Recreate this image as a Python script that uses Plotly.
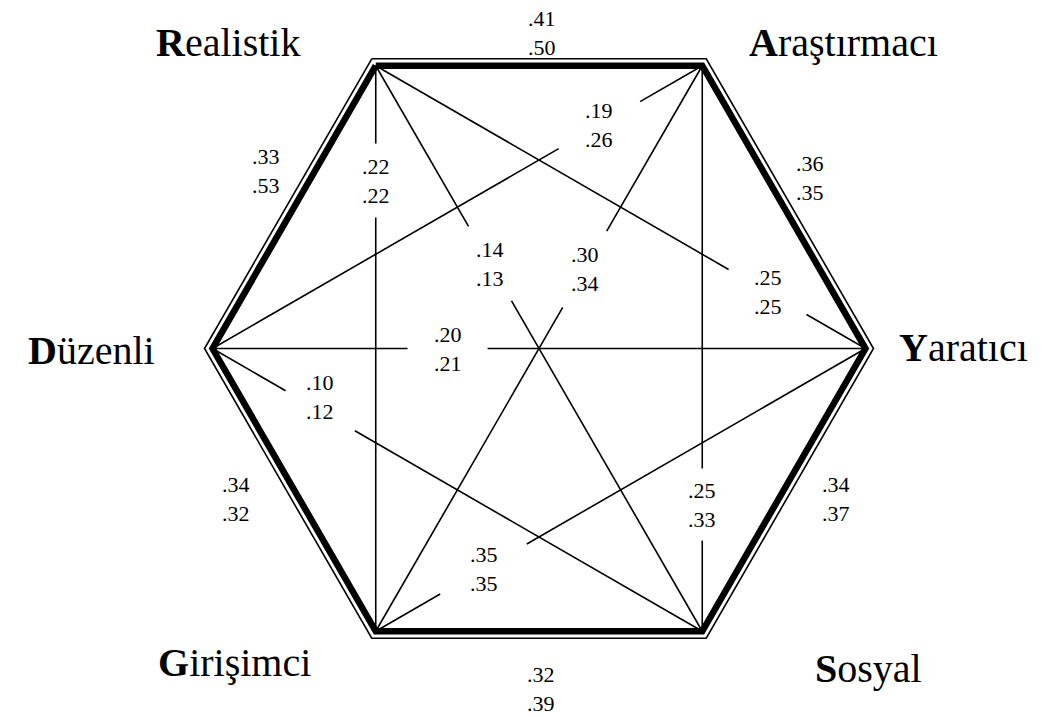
import math
import plotly.graph_objects as go

# ---- data ----
types = ["Realistik", "Araştırmacı", "Yaratıcı", "Sosyal", "Girişimci", "Düzenli"]

edge_pairs = [("Realistik", "Araştırmacı"), ("Araştırmacı", "Yaratıcı"), ("Yaratıcı", "Sosyal"),
              ("Sosyal", "Girişimci"), ("Girişimci", "Düzenli"), ("Düzenli", "Realistik")]
edge_r1 = [.41, .36, .34, .32, .34, .33]
edge_r2 = [.50, .35, .37, .39, .32, .53]

diag_pairs = [("Realistik", "Girişimci"), ("Realistik", "Yaratıcı"), ("Realistik", "Sosyal"),
              ("Araştırmacı", "Düzenli"), ("Araştırmacı", "Girişimci"), ("Araştırmacı", "Sosyal"),
              ("Düzenli", "Yaratıcı"), ("Düzenli", "Sosyal"), ("Yaratıcı", "Girişimci")]
diag_r1 = [.22, .25, .14, .19, .30, .25, .20, .10, .35]
diag_r2 = [.22, .25, .13, .26, .34, .33, .21, .12, .35]

# ---- layout / geometry (not data) ----
W, H = 1042, 717
CX, CY, R_IN, R_OUT = 539, 348.5, 326.5, 334.5
angles = {"Realistik": 120, "Araştırmacı": 60, "Yaratıcı": 0, "Sosyal": -60, "Girişimci": -120, "Düzenli": 180}
label_xy = {"Realistik": (228, 42), "Araştırmacı": (843, 42), "Yaratıcı": (963, 347),
            "Sosyal": (868, 668), "Girişimci": (234, 662), "Düzenli": (91, 350)}
edge_off = [(3, -33), (26, -29), (52, 9), (2, 58), (-58, 9), (-28, -36)]
diag_t = [0.203, 0.80, 0.35, 0.21, 0.36, 0.776, 0.36, 0.22, 0.78]
diag_gap = [37, 45, 43, 47, 44, 36, 40, 40, 50]
diag_off = [(0, 0), (0, 0), (0, 0), (0, 0), (0, 0), (0, 0), (0, 0), (0, -14), (0, 0)]

NUM_FONT = dict(family="Liberation Serif, Times New Roman, serif", size=22, color="black")
LAB_FONT = dict(family="Liberation Serif, Times New Roman, serif", size=40, color="black")


def vert(name, r):
    a = math.radians(angles[name])
    return CX + r * math.cos(a), CY - r * math.sin(a)


def fmt(v):
    return f"{v:.2f}".lstrip("0")


fig = go.Figure()

# hexagon: outer thin + inner thick
for r, w in [(R_OUT, 1.6), (R_IN, 6.5)]:
    xs = [vert(t, r)[0] for t in types] + [vert(types[0], r)[0]]
    ys = [vert(t, r)[1] for t in types] + [vert(types[0], r)[1]]
    fig.add_trace(go.Scatter(x=xs, y=ys, mode="lines", line=dict(color="black", width=w),
                             hoverinfo="skip", showlegend=False))

annotations = []

# diagonals with gaps for labels
dx_all, dy_all = [], []
for (a, b), t, g, off, r1, r2 in zip(diag_pairs, diag_t, diag_gap, diag_off, diag_r1, diag_r2):
    x1, y1 = vert(a, R_IN)
    x2, y2 = vert(b, R_IN)
    L = math.hypot(x2 - x1, y2 - y1)
    t0, t1 = t - g / L, t + g / L
    dx_all += [x1, x1 + (x2 - x1) * t0, None, x1 + (x2 - x1) * t1, x2, None]
    dy_all += [y1, y1 + (y2 - y1) * t0, None, y1 + (y2 - y1) * t1, y2, None]
    lx, ly = x1 + (x2 - x1) * t + off[0], y1 + (y2 - y1) * t + off[1]
    annotations.append(dict(x=lx, y=ly, text=f"{fmt(r1)}<br>{fmt(r2)}", showarrow=False,
                            xanchor="center", yanchor="middle", font=NUM_FONT))
fig.add_trace(go.Scatter(x=dx_all, y=dy_all, mode="lines", line=dict(color="black", width=1.6),
                         hoverinfo="skip", showlegend=False))

# edge labels
for (a, b), off, r1, r2 in zip(edge_pairs, edge_off, edge_r1, edge_r2):
    x1, y1 = vert(a, R_IN)
    x2, y2 = vert(b, R_IN)
    annotations.append(dict(x=(x1 + x2) / 2 + off[0], y=(y1 + y2) / 2 + off[1],
                            text=f"{fmt(r1)}<br>{fmt(r2)}", showarrow=False,
                            xanchor="center", yanchor="middle", font=NUM_FONT))

# vertex labels (bold first letter)
for t in types:
    x, y = label_xy[t]
    annotations.append(dict(x=x, y=y, text=f"<b>{t[0]}</b>{t[1:]}", showarrow=False,
                            xanchor="center", yanchor="middle", font=LAB_FONT))

fig.update_layout(
    width=W, height=H, margin=dict(l=0, r=0, t=0, b=0),
    paper_bgcolor="white", plot_bgcolor="white",
    xaxis=dict(range=[0, W], visible=False, fixedrange=True),
    yaxis=dict(range=[H, 0], visible=False, fixedrange=True),
    annotations=annotations,
)

fig.write_html("out.html", config={"displayModeBar": False},
               post_script="document.body.style.margin='0';document.body.style.overflow='hidden';")
